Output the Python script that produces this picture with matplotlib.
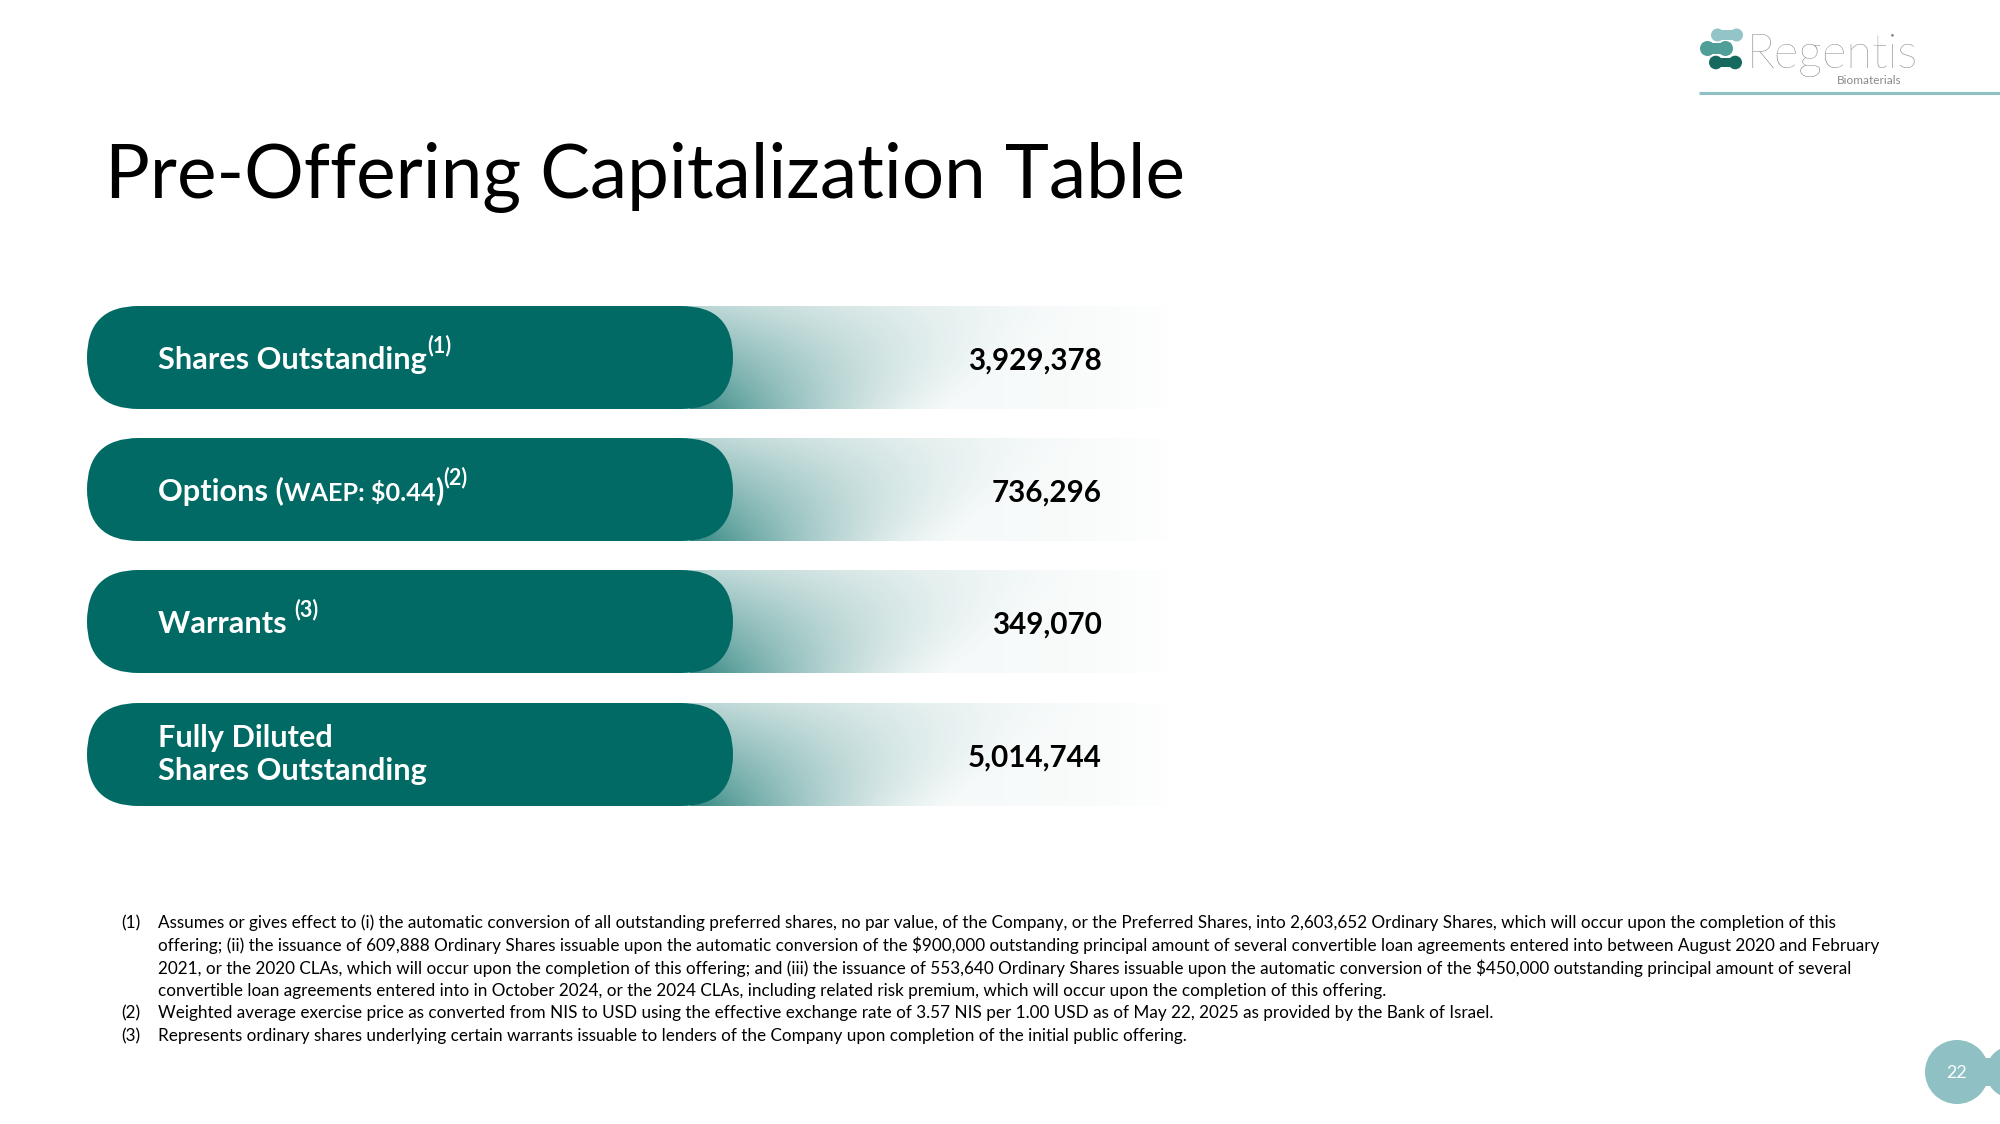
import matplotlib
matplotlib.use("Agg")
import matplotlib.pyplot as plt
import numpy as np
from matplotlib.patches import FancyBboxPatch, Circle, Rectangle

plt.rcParams['font.family'] = ['Lato', 'DejaVu Sans']

# ---- data ----
title = 'Pre-Offering Capitalization Table'
row_labels = [
    [('Shares Outstanding', 1.0, 0), ('(1)', 0.7, 1)],
    [('Options (', 1.0, 0), ('WAEP: $0.44', 0.82, 0), (')', 1.0, 0), ('(2)', 0.7, 1)],
    [('Warrants ', 1.0, 0), ('(3)', 0.7, 1)],
    [('Fully Diluted\nShares Outstanding', 1.0, 0)],
]
row_values = [3929378, 736296, 349070, 5014744]
note_marks = ['(1)', '', '', '', '(2)', '(3)']
note_lines = [
    'Assumes or gives effect to (i) the automatic conversion of all outstanding preferred shares, no par value, of the Company, or the Preferred Shares, into 2,603,652 Ordinary Shares, which will occur upon the completion of this',
    'offering; (ii) the issuance of 609,888 Ordinary Shares issuable upon the automatic conversion of the $900,000 outstanding principal amount of several convertible loan agreements entered into between August 2020 and February',
    '2021, or the 2020 CLAs, which will occur upon the completion of this offering; and (iii) the issuance of 553,640 Ordinary Shares issuable upon the automatic conversion of the $450,000 outstanding principal amount of several',
    'convertible loan agreements entered into in October 2024, or the 2024 CLAs, including related risk premium, which will occur upon the completion of this offering.',
    'Weighted average exercise price as converted from NIS to USD using the effective exchange rate of 3.57 NIS per 1.00 USD as of May 22, 2025 as provided by the Bank of Israel.',
    'Represents ordinary shares underlying certain warrants issuable to lenders of the Company upon completion of the initial public offering.',
]
page_no = '22'

TEAL = '#016a64'
W, H = 2000, 1124

fig = plt.figure(figsize=(20, 11.24), dpi=100)
ax = fig.add_axes([0, 0, 1, 1])
ax.set_xlim(0, W)
ax.set_ylim(H, 0)
ax.axis('off')
r = fig.canvas.get_renderer()


def width_px(s, size, **kw):
    t = ax.text(0, 0, s, fontsize=size, parse_math=False, **kw)
    w = t.get_window_extent(r).width
    t.remove()
    return w


def fit(s, target, **kw):
    return 20 * target / width_px(s, 20, **kw)


# title
ts = fit(title, 1082)
ax.text(105, 198, title, fontsize=ts, color='black', va='baseline', ha='left')

# rows
lab_size = fit('Shares Outstanding', 269, fontweight='bold')
num_size = fit('3,929,378', 134, fontweight='bold')
bar_top = [306, 438, 570, 703]
bar_h = 103
px2pt = 72 / 100
for i, (parts, val) in enumerate(zip(row_labels, row_values)):
    y0 = bar_top[i]
    yc = y0 + bar_h / 2
    # gradient band
    gx0, gx1 = 690, 1170
    xx = np.linspace(0, 1, 300)
    yy = np.linspace(0, 1, 60)
    X, Y = np.meshgrid(xx, yy)
    alpha = 0.75 * np.clip(1 - X / (0.55 + 0.3 * (1 - Y)), 0, 1) ** 1.5 * (0.3 + 0.7 * Y)
    alpha += 0.06 * np.clip(1 - X, 0, 1) ** 0.5
    rgba = np.zeros((60, 300, 4))
    rgba[..., 0] = 0x01 / 255
    rgba[..., 1] = 0x6a / 255
    rgba[..., 2] = 0x64 / 255
    rgba[..., 3] = np.clip(alpha, 0, 1)
    ax.imshow(rgba, extent=(gx0, gx1, y0 + bar_h, y0), aspect='auto', zorder=1,
              interpolation='bilinear')
    pill = FancyBboxPatch((87, y0), 733 - 87, bar_h,
                          boxstyle='round,pad=0,rounding_size=51.5',
                          fc=TEAL, ec='none', zorder=2)
    ax.add_patch(pill)
    # label pieces
    x = 158
    for txt, scale, sup in parts:
        s = lab_size * scale
        if '\n' in txt:
            ax.text(x, yc, txt, fontsize=s, color='white', fontweight='bold',
                    va='center', ha='left', linespacing=1.2, zorder=3)
            continue
        yb = yc + 0.36 * lab_size / px2pt - (0.52 * lab_size / px2pt if sup else 0)
        t = ax.text(x, yb, txt, fontsize=s, color='white', fontweight='bold',
                    va='baseline', ha='left', parse_math=False, zorder=3)
        x += t.get_window_extent(r).width
    ax.text(1102, yc + 3, f'{val:,}', fontsize=num_size, color='black',
            fontweight='bold', va='center', ha='right', zorder=3)

# footnotes
fn_size = fit(note_lines[1], 1727)
fy0, fdy = 923, 22.6
for k, (m, line) in enumerate(zip(note_marks, note_lines)):
    y = fy0 + k * fdy
    if m:
        ax.text(121, y, m, fontsize=fn_size, color='black', va='center', ha='left')
    ax.text(158, y, line, fontsize=fn_size, color='black', va='center', ha='left',
            parse_math=False)

# logo: three peanut-shaped blobs
blob = [('#93c5c8', 1711, 1743, 35, 6.5), ('#4f9f98', 1700, 1733, 48.5, 7.5),
        ('#16695f', 1709, 1742, 62.5, 6.8)]
for c, xa, xb, yc, rr in blob:
    ax.add_patch(Circle((xa + rr, yc), rr, fc=c, ec='none'))
    ax.add_patch(Circle((xb - rr, yc), rr, fc=c, ec='none'))
    ax.add_patch(Rectangle((xa + rr, yc - rr * 0.7), xb - xa - 2 * rr, rr * 1.4,
                           fc=c, ec='none'))
ax.text(1746, 68, 'Regentis', fontsize=fit('Regentis', 171, fontweight='light'),
        fontweight='light', color='#7a7a7a', va='baseline', ha='left')
ax.text(1902, 81, 'Biomaterials', fontsize=fit('Biomaterials', 64), color='#8a8a8a',
        va='center', ha='right')
ax.plot([1699, 2000], [93, 93], color='#8fc0c4', lw=2.2, solid_capstyle='butt')

# page number bubble
PC = '#8fc0c4'
ax.add_patch(Circle((1957, 1072), 32, fc=PC, ec='none'))
ax.add_patch(Rectangle((1957, 1058), 45, 28, fc=PC, ec='none'))
ax.add_patch(Circle((2012, 1072), 26, fc=PC, ec='none'))
ax.text(1957, 1073, page_no, fontsize=13, color='white', va='center', ha='center')

fig.savefig('out.png', dpi=100)
